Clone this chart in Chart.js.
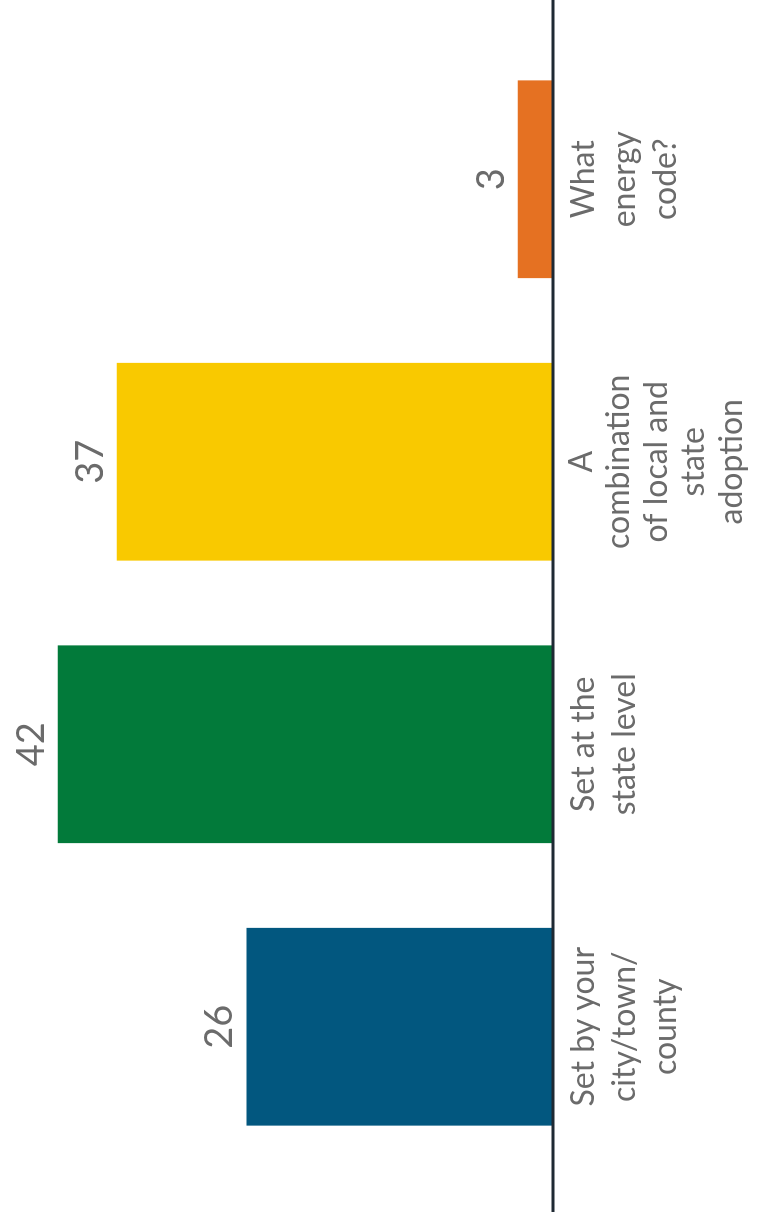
<!DOCTYPE html>
<html>
<head>
<meta charset="utf-8">
<script src="https://cdn.jsdelivr.net/npm/chart.js@4/dist/chart.umd.min.js"></script>
<style>
  html, body { margin: 0; padding: 0; background: #ffffff; overflow: hidden; }
  body { width: 759px; height: 1220px; position: relative; }
  #wrap {
    position: absolute; left: 0; top: 0;
    width: 1220px; height: 759px;
    transform-origin: 0 0;
    transform: translateY(1220px) rotate(-90deg);
  }
</style>
</head>
<body>
<div id="wrap"><canvas id="c" width="1220" height="759"></canvas></div>
<script>
// Data
const categories = [
  ["Set by your", "city/town/", "county"],
  ["Set at the", "state level"],
  ["A", "combination", "of local and", "state", "adoption"],
  ["What", "energy", "code?"]
];
const values = [26, 42, 37, 3];
const barColors = ["#02577f", "#027a3a", "#f9c900", "#e57122"];

const FONT = "Lato, 'Open Sans', sans-serif";
const TEXT = "#6b6b6b";

const baselinePlugin = {
  id: 'baseline',
  afterDatasetsDraw(chart) {
    const ctx = chart.ctx;
    const y = chart.scales.y.getPixelForValue(0);
    ctx.save();
    ctx.strokeStyle = "#1e2933";
    ctx.lineWidth = 3;
    ctx.beginPath();
    ctx.moveTo(8, y);
    ctx.lineTo(chart.width, y);
    ctx.stroke();
    ctx.restore();
  }
};

const valueLabelPlugin = {
  id: 'valueLabels',
  afterDatasetsDraw(chart) {
    const ctx = chart.ctx;
    const meta = chart.getDatasetMeta(0);
    ctx.save();
    ctx.fillStyle = TEXT;
    ctx.font = "38px " + FONT;
    ctx.textAlign = "center";
    ctx.textBaseline = "alphabetic";
    meta.data.forEach((bar, i) => {
      ctx.fillText(String(values[i]), bar.x, bar.y - 14);
    });
    ctx.restore();
  }
};

new Chart(document.getElementById('c'), {
  type: 'bar',
  data: {
    labels: categories,
    datasets: [{
      data: values,
      backgroundColor: barColors,
      borderWidth: 0,
      categoryPercentage: 0.7,
      barPercentage: 1.0
    }]
  },
  options: {
    responsive: false,
    animation: false,
    devicePixelRatio: 1,
    layout: { padding: { left: 52, right: 38, top: 22.5, bottom: 0 } },
    plugins: { legend: { display: false }, tooltip: { enabled: false } },
    scales: {
      x: {
        grid: { display: false, drawTicks: false },
        border: { display: false },
        ticks: {
          color: TEXT,
          font: (ctx) => ({ family: FONT, size: 32, lineHeight: ctx.index === 2 ? 1.17 : 1.28 }),
          padding: 10,
          maxRotation: 0,
          minRotation: 0,
          autoSkip: false
        },
        afterFit(scale) { scale.height = 206; }
      },
      y: {
        display: false,
        min: 0,
        max: 45
      }
    }
  },
  plugins: [baselinePlugin, valueLabelPlugin]
});
</script>
</body>
</html>
